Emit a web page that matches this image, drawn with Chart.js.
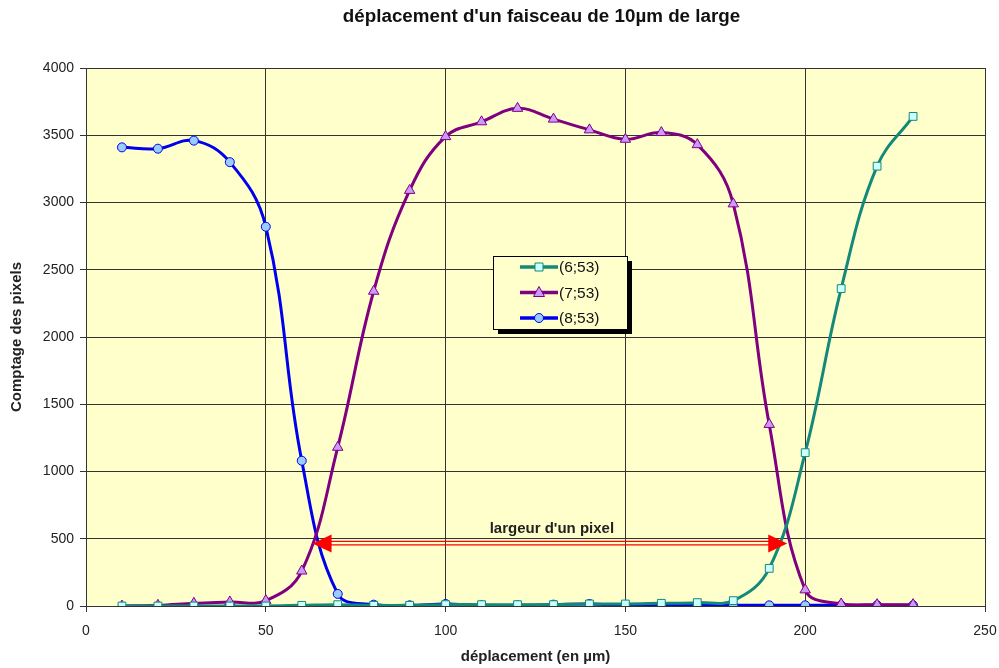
<!DOCTYPE html>
<html>
<head>
<meta charset="utf-8">
<script src="https://cdn.jsdelivr.net/npm/chart.js@4.4.1/dist/chart.umd.min.js"></script>
<style>
  html, body { margin: 0; padding: 0; background: #ffffff; }
  #wrap { width: 999px; height: 668px; position: relative; }
</style>
</head>
<body>
<div id="wrap"><canvas id="c" width="999" height="668"></canvas></div>
<script>
// ---- data ----
const positions = [10, 20, 30, 40, 50, 60, 70, 80, 90, 100, 110, 120, 130, 140, 150, 160, 170, 180, 190, 200, 210, 220, 230];
const series6_53 = [0, 0, 0, 0, 0, 5, 10, 5, 5, 10, 10, 10, 10, 15, 15, 20, 25, 40, 280, 1140, 2360, 3270, 3640];
const series7_53 = [0, 5, 20, 30, 40, 260, 1180, 2340, 3090, 3490, 3600, 3700, 3620, 3540, 3470, 3520, 3430, 2990, 1350, 120, 15, 10, 10];
const series8_53 = [3410, 3400, 3460, 3300, 2820, 1080, 90, 10, 5, 15, 5, 5, 10, 15, 5, 10, 5, 5, 5, 5, 5, 5, 5];
const seriesNames = ['(6;53)', '(7;53)', '(8;53)'];
const xTicks = [0, 50, 100, 150, 200, 250];
const yTicks = [0, 500, 1000, 1500, 2000, 2500, 3000, 3500, 4000];
const chartTitle = "déplacement d'un faisceau de 10µm de large";
const xTitle = 'déplacement (en µm)';
const yTitle = 'Comptage des pixels';
const arrowLabel = "largeur d'un pixel";
const arrowFrom = 63, arrowTo = 195, arrowLevel = 465;

const FONT = "'Liberation Sans', Arial, sans-serif";
const toPts = arr => positions.map((x, i) => ({ x: x, y: arr[i] }));

const bgPlugin = {
  id: 'plotBg',
  beforeDraw(chart) {
    const { ctx, chartArea: a } = chart;
    ctx.save();
    ctx.fillStyle = '#ffffcc';
    ctx.fillRect(a.left, a.top, a.right - a.left, a.bottom - a.top);
    ctx.restore();
  }
};

const overlayPlugin = {
  id: 'overlay',
  afterDatasetsDraw(chart) {
    const { ctx, scales } = chart;
    const xs = scales.x, ys = scales.y;
    const a = chart.chartArea;
    // title
    ctx.save();
    ctx.fillStyle = '#111';
    ctx.font = 'bold 18.8px ' + FONT;
    ctx.textAlign = 'center';
    ctx.textBaseline = 'middle';
    ctx.fillText(chartTitle, (a.left + a.right) / 2 + 6, 17);
    ctx.restore();

    // arrow
    const x1 = xs.getPixelForValue(arrowFrom), x2 = xs.getPixelForValue(arrowTo);
    const y = ys.getPixelForValue(arrowLevel);
    const head = 19, hh = 9;
    ctx.save();
    ctx.strokeStyle = '#ff0000';
    ctx.lineWidth = 1.3;
    ctx.beginPath();
    ctx.moveTo(x1 + head - 2, y - 2); ctx.lineTo(x2 - head + 2, y - 2);
    ctx.moveTo(x1 + head - 2, y + 1.5); ctx.lineTo(x2 - head + 2, y + 1.5);
    ctx.stroke();
    ctx.fillStyle = '#ff0000';
    ctx.beginPath();
    ctx.moveTo(x1, y); ctx.lineTo(x1 + head, y - hh); ctx.lineTo(x1 + head, y + hh); ctx.closePath();
    ctx.fill();
    ctx.beginPath();
    ctx.moveTo(x2, y); ctx.lineTo(x2 - head, y - hh); ctx.lineTo(x2 - head, y + hh); ctx.closePath();
    ctx.fill();
    ctx.fillStyle = '#222';
    ctx.font = 'bold 15px ' + FONT;
    ctx.textAlign = 'center';
    ctx.textBaseline = 'middle';
    ctx.fillText(arrowLabel, (x1 + x2) / 2 + 2, y - 15);
    ctx.restore();

    // legend box
    const bx = 493, by = 256, bw = 134, bh = 73;
    ctx.save();
    ctx.fillStyle = '#000';
    ctx.fillRect(bx + 5, by + 5, bw, bh);
    ctx.fillStyle = '#ffffcc';
    ctx.fillRect(bx, by, bw, bh);
    ctx.strokeStyle = '#000';
    ctx.lineWidth = 1;
    ctx.strokeRect(bx + 0.5, by + 0.5, bw, bh);
    chart.data.datasets.forEach((ds, i) => {
      const ry = by + 11 + i * 25.5;
      ctx.strokeStyle = ds.borderColor;
      ctx.lineWidth = 3.5;
      ctx.beginPath();
      ctx.moveTo(bx + 27, ry); ctx.lineTo(bx + 65, ry);
      ctx.stroke();
      ctx.fillStyle = ds.pointBackgroundColor;
      ctx.strokeStyle = ds.pointBorderColor;
      ctx.lineWidth = 1;
      const cx = bx + 46;
      ctx.beginPath();
      if (ds.pointStyle === 'rect') { ctx.rect(cx - 4, ry - 4, 8, 8); }
      else if (ds.pointStyle === 'triangle') { ctx.moveTo(cx, ry - 6); ctx.lineTo(cx + 5.5, ry + 4); ctx.lineTo(cx - 5.5, ry + 4); ctx.closePath(); }
      else { ctx.arc(cx, ry, 4.5, 0, Math.PI * 2); }
      ctx.fill(); ctx.stroke();
      ctx.fillStyle = '#111';
      ctx.font = '15.5px ' + FONT;
      ctx.textAlign = 'left';
      ctx.textBaseline = 'middle';
      ctx.fillText(ds.label, bx + 66, ry + 1);
    });
    ctx.restore();
  }
};

const mk = (label, data, line, fill, style, r) => ({
  label: label,
  data: toPts(data),
  borderColor: line,
  borderWidth: 3,
  pointStyle: style,
  pointRadius: r,
  pointBackgroundColor: fill,
  pointBorderColor: line,
  pointBorderWidth: 1,
  tension: 0.4,
  fill: false
});

new Chart(document.getElementById('c'), {
  type: 'line',
  data: {
    datasets: [
      mk(seriesNames[0], series6_53, '#14897a', '#ccffff', 'rect', 5.5),
      mk(seriesNames[1], series7_53, '#800080', '#cc99ff', 'triangle', 6),
      mk(seriesNames[2], series8_53, '#0000ee', '#99ccff', 'circle', 4.5)
    ]
  },
  options: {
    responsive: false,
    animation: false,
    devicePixelRatio: 1,
    layout: { padding: { left: 0, right: 14, top: 68, bottom: 0 } },
    plugins: {
      legend: { display: false },
      tooltip: { enabled: false },
      title: { display: false }
    },
    scales: {
      x: {
        type: 'linear',
        min: 0, max: 250,
        afterBuildTicks(s) { s.ticks = xTicks.map(v => ({ value: v })); },
        afterFit(s) { s.height = 62; s.paddingRight = 0; },
        ticks: { color: '#222', font: { family: FONT, size: 14 }, padding: 11, maxRotation: 0, callback: v => String(v) },
        grid: { color: '#333', lineWidth: 1, tickLength: 6, drawTicks: true },
        border: { color: '#333', width: 1 },
        title: { display: true, text: xTitle, color: '#222', font: { family: FONT, size: 15, weight: 'bold' }, padding: { top: 4, bottom: 2 } }
      },
      y: {
        min: 0, max: 4000,
        afterBuildTicks(s) { s.ticks = yTicks.map(v => ({ value: v })); },
        afterFit(s) { s.width = 86; },
        ticks: { color: '#222', font: { family: FONT, size: 14 }, padding: 6, callback: v => String(v) },
        grid: { color: '#333', lineWidth: 1, tickLength: 6, drawTicks: true },
        border: { color: '#333', width: 1 },
        title: { display: true, text: yTitle, color: '#222', font: { family: FONT, size: 15, weight: 'bold' }, padding: { top: 8, bottom: 4 } }
      }
    }
  },
  plugins: [bgPlugin, overlayPlugin]
});
</script>
</body>
</html>
